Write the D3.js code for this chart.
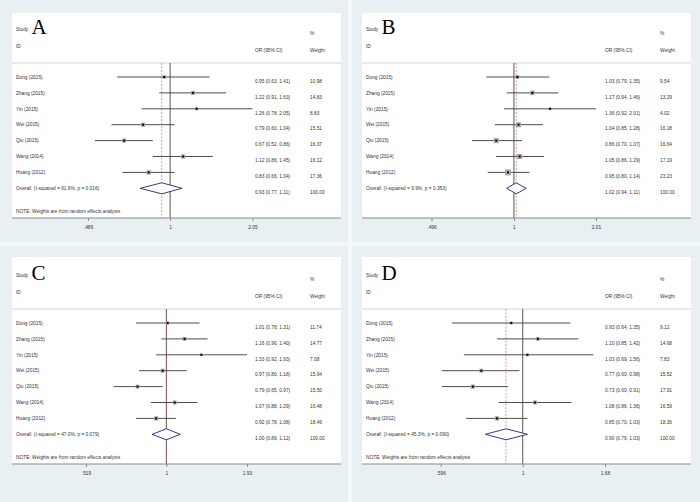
<!DOCTYPE html>
<html>
<head>
<meta charset="utf-8">
<script src="https://cdn.jsdelivr.net/npm/d3@7/dist/d3.min.js"></script>
<style>
html,body{margin:0;padding:0;background:#f6f9fa;}
svg{display:block;}
text{font-family:"Liberation Sans",Arial,sans-serif;fill:#333;}
</style>
</head>
<body>
<svg id="chart" width="700" height="502"></svg>
<script>
// ---------------- DATA ----------------
const studies = ["Dong (2015)", "Zhang (2015)", "Yin (2015)", "Wei (2015)", "Qiu (2015)", "Wang (2014)", "Huang (2012)"];
const panelLetters = ["A", "B", "C", "D"];

const orA = [0.95, 1.22, 1.26, 0.79, 0.67, 1.12, 0.83];
const loA = [0.63, 0.91, 0.78, 0.60, 0.52, 0.86, 0.66];
const hiA = [1.41, 1.63, 2.05, 1.04, 0.86, 1.45, 1.04];
const wA  = [10.98, 14.83, 8.83, 15.51, 16.37, 16.12, 17.36];
const overallA = [0.93, 0.77, 1.11];
const hetA = ["61.6%", "0.016"];
const ticksA = [0.489, 1, 2.05];
const tickLabelsA = [".489", "1", "2.05"];

const orB = [1.03, 1.17, 1.36, 1.04, 0.86, 1.05, 0.95];
const loB = [0.79, 0.94, 0.92, 0.85, 0.70, 0.86, 0.80];
const hiB = [1.35, 1.46, 2.01, 1.28, 1.07, 1.29, 1.14];
const wB  = [9.54, 13.29, 4.02, 16.18, 16.64, 17.19, 23.23];
const overallB = [1.02, 0.94, 1.11];
const hetB = ["9.9%", "0.353"];
const ticksB = [0.496, 1, 2.01];
const tickLabelsB = [".496", "1", "2.01"];

const orC = [1.01, 1.16, 1.33, 0.97, 0.79, 1.07, 0.92];
const loC = [0.78, 0.96, 0.92, 0.80, 0.65, 0.88, 0.78];
const hiC = [1.31, 1.40, 1.93, 1.18, 0.97, 1.29, 1.08];
const wC  = [11.74, 14.77, 7.08, 15.94, 15.50, 16.48, 18.49];
const overallC = [1.00, 0.89, 1.12];
const hetC = ["47.0%", "0.079"];
const ticksC = [0.519, 1, 1.93];
const tickLabelsC = [".519", "1", "1.93"];

const orD = [0.93, 1.10, 1.03, 0.77, 0.73, 1.08, 0.85];
const loD = [0.64, 0.85, 0.69, 0.60, 0.60, 0.86, 0.70];
const hiD = [1.35, 1.42, 1.56, 0.98, 0.91, 1.36, 1.03];
const wD  = [9.12, 14.68, 7.83, 15.52, 17.91, 16.59, 18.36];
const overallD = [0.90, 0.79, 1.03];
const hetD = ["45.3%", "0.090"];
const ticksD = [0.596, 1, 1.68];
const tickLabelsD = [".596", "1", "1.68"];

const noteText = "NOTE: Weights are from random effects analysis";
const showNote = [true, false, true, true];

// ---------------- LAYOUT ----------------
const panels = [
  {letter: panelLetters[0], or: orA, lo: loA, hi: hiA, w: wA, overall: overallA, het: hetA, ticks: ticksA, tickLabels: tickLabelsA,
   dx: 0, dy: 0, outer: [0, 0, 348, 242], whiteTop: 13, range: [88, 252.5], note: showNote[0], box: 1.05},
  {letter: panelLetters[1], or: orB, lo: loB, hi: hiB, w: wB, overall: overallB, het: hetB, ticks: ticksB, tickLabels: tickLabelsB,
   dx: 350, dy: 0, outer: [352, 0, 700, 242], whiteTop: 13, range: [431.5, 596], note: showNote[1], box: 1.25},
  {letter: panelLetters[2], or: orC, lo: loC, hi: hiC, w: wC, overall: overallC, het: hetC, ticks: ticksC, tickLabels: tickLabelsC,
   dx: 0, dy: 246, outer: [0, 246, 348, 502], whiteTop: 257, range: [86, 247], note: showNote[2], box: 1.0},
  {letter: panelLetters[3], or: orD, lo: loD, hi: hiD, w: wD, overall: overallD, het: hetD, ticks: ticksD, tickLabels: tickLabelsD,
   dx: 350, dy: 246, outer: [352, 246, 700, 502], whiteTop: 257, range: [440.7, 605], note: showNote[3], box: 1.0}
];

const svg = d3.select("#chart");
const FS = 4.8;

panels.forEach(p => {
  const g = svg.append("g");
  const [ox0, oy0, ox1, oy1] = p.outer;
  g.append("rect").attr("x", ox0).attr("y", oy0).attr("width", ox1 - ox0).attr("height", oy1 - oy0).attr("fill", "#e8f0f3");
  const wl = 12 + p.dx, wr = 341 + p.dx;
  const axisY = 218 + p.dy;
  g.append("rect").attr("x", wl).attr("y", p.whiteTop).attr("width", wr - wl).attr("height", axisY - p.whiteTop).attr("fill", "#ffffff");

  const x = d3.scaleLog().domain([p.ticks[0], p.ticks[2]]).range(p.range);

  const txt = (tx, ty, s, opts = {}) => g.append("text")
      .attr("x", tx).attr("y", ty).attr("dy", "0.36em")
      .attr("font-size", opts.fs || FS)
      .attr("text-anchor", opts.anchor || "start")
      .style("white-space", "pre")
      .text(s);

  // header
  txt(16 + p.dx, 29 + p.dy, "Study");
  g.append("text").attr("x", 31.5 + p.dx).attr("y", 34 + p.dy)
    .attr("font-size", 21).style("font-family", "'Liberation Serif','Times New Roman',serif").style("fill", "#000")
    .text(p.letter);
  txt(16 + p.dx, 46 + p.dy, "ID");
  txt(310 + p.dx, 33 + p.dy, "%");
  txt(255 + p.dx, 50 + p.dy, "OR (95% CI)");
  txt(310 + p.dx, 50 + p.dy, "Weight");

  const headerY = 63 + p.dy;
  g.append("line").attr("x1", wl).attr("x2", wr).attr("y1", headerY).attr("y2", headerY)
    .attr("stroke", "#c8c8c8").attr("stroke-width", 0.8);

  // reference lines
  g.append("line").attr("x1", x(1)).attr("x2", x(1)).attr("y1", headerY).attr("y2", axisY)
    .attr("stroke", "#444").attr("stroke-width", 0.9);
  g.append("line").attr("x1", x(p.overall[0])).attr("x2", x(p.overall[0])).attr("y1", headerY).attr("y2", axisY)
    .attr("stroke", "#d06868").attr("stroke-width", 0.7).attr("stroke-dasharray", "2,1.5");

  const rowY = i => 77 + 15.9 * i + p.dy;

  studies.forEach((s, i) => {
    const y = rowY(i);
    txt(16 + p.dx, y, s);
    g.append("line").attr("x1", x(p.lo[i])).attr("x2", x(p.hi[i])).attr("y1", y).attr("y2", y)
      .attr("stroke", "#3a3a3a").attr("stroke-width", 0.9);
    const side = p.box * Math.sqrt(p.w[i]);
    g.append("rect").attr("x", x(p.or[i]) - side / 2).attr("y", y - side / 2)
      .attr("width", side).attr("height", side).attr("fill", "#a8a8a8");
    g.append("rect").attr("x", x(p.or[i]) - 1).attr("y", y - 1).attr("width", 2).attr("height", 2).attr("fill", "#000");
    txt(255 + p.dx, y + 4, `${p.or[i].toFixed(2)} (${p.lo[i].toFixed(2)}, ${p.hi[i].toFixed(2)})`);
    txt(310 + p.dx, y + 4, p.w[i].toFixed(2));
  });

  // overall
  const oy = rowY(7);
  txt(16 + p.dx, oy, `Overall  (I-squared = ${p.het[0]}, p = ${p.het[1]})`);
  const dh = 5.5;
  const pts = [[x(p.overall[1]), oy], [x(p.overall[0]), oy - dh], [x(p.overall[2]), oy], [x(p.overall[0]), oy + dh]];
  g.append("path").attr("d", d3.line()(pts) + "Z").attr("fill", "#fff").attr("stroke", "#23237d").attr("stroke-width", 0.9);
  txt(255 + p.dx, oy + 4, `${p.overall[0].toFixed(2)} (${p.overall[1].toFixed(2)}, ${p.overall[2].toFixed(2)})`);
  txt(310 + p.dx, oy + 4, (100).toFixed(2));

  if (p.note) txt(16 + p.dx, 211 + p.dy, noteText);

  // axis
  const axis = d3.axisBottom(x).tickValues(p.ticks).tickFormat((d, i) => p.tickLabels[i]).tickSize(3).tickSizeOuter(0);
  const ag = g.append("g").attr("transform", `translate(0,${axisY})`).call(axis);
  ag.select(".domain").remove();
  ag.append("line").attr("x1", wl).attr("x2", wr).attr("y1", 0).attr("y2", 0).attr("stroke", "#8a8a8a").attr("stroke-width", 1);
  ag.selectAll(".tick line").attr("stroke", "#666").attr("stroke-width", 0.7);
  ag.selectAll(".tick text").attr("font-size", FS).attr("font-family", "'Liberation Sans',Arial,sans-serif").attr("fill", "#333").attr("dy", "0.36em").attr("y", 9);
});
</script>
</body>
</html>
